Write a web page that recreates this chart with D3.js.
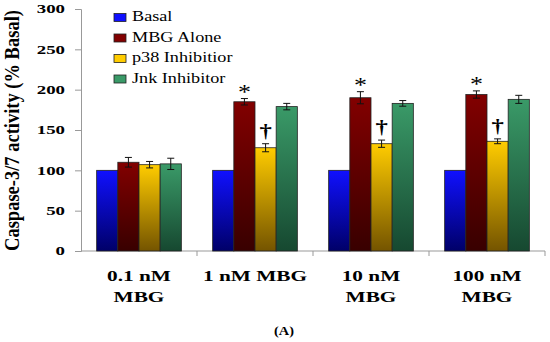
<!DOCTYPE html>
<html>
<head>
<meta charset="utf-8">
<style>
    body { margin: 0; background: white; }
    svg { display: block; }
    svg text { font-family: 'Liberation Serif', 'Times New Roman', serif; }
</style>
</head>
<body>
<svg width="550" height="342"></svg>
<script src="https://d3js.org/d3.v7.min.js"></script>
<script>
    // data
    let groups = ["0.1 nM MBG", "1 nM MBG", "10 nM MBG", "100 nM MBG"]
    let groupLines = [["0.1 nM", "MBG"], ["1 nM MBG"], ["10 nM", "MBG"], ["100 nM", "MBG"]]
    let series = ["Basal", "MBG Alone", "p38 Inhibitior", "Jnk Inhibitor"]
    let basal = [100, 100, 100, 100]
    let mbgAlone = [110, 185, 190, 194]
    let p38 = [107, 128, 133, 136]
    let jnk = [108, 179, 183, 188]
    let mbgErr = [6, 4, 7.5, 4.5]
    let p38Err = [4, 5, 4.5, 3]
    let jnkErr = [7, 4, 3.5, 5]
    let yTicks = [0, 50, 100, 150, 200, 250, 300]

    let values = [basal, mbgAlone, p38, jnk]
    let errors = [null, mbgErr, p38Err, jnkErr]
    // significance marks: "*" over MBG alone, "†" over p38 in groups 2-4
    let marks = [
        { s: 1, g: 1, t: "*" }, { s: 2, g: 1, t: "†" },
        { s: 1, g: 2, t: "*" }, { s: 2, g: 2, t: "†" },
        { s: 1, g: 3, t: "*" }, { s: 2, g: 3, t: "†" }
    ]

    let colors = [
        ["#1010ff", "#000068"],
        ["#820000", "#380000"],
        ["#ffcc00", "#745400"],
        ["#3a9a68", "#164830"]
    ]

    let svg = d3.select("svg")
    let defs = svg.append("defs")
    colors.forEach((c, i) => {
        let g = defs.append("linearGradient").attr("id", "grad" + i)
            .attr("x1", 0).attr("y1", 0).attr("x2", 0).attr("y2", 1)
        g.append("stop").attr("offset", "0%").attr("stop-color", c[0])
        g.append("stop").attr("offset", "100%").attr("stop-color", c[1])
    })

    // the original figure is stretched sideways, so text gets a horizontal scale
    function stretched(parent, px, py, sx, sy) {
        return parent.append("text")
            .attr("transform", `translate(${px},${py}) scale(${sx},${sy || 1})`)
    }

    let mLeft = 81, mRight = 545, mTop = 9, mBottom = 251

    let y = d3.scaleLinear().domain([0, 300]).range([mBottom, mTop])
    let x = d3.scaleBand().domain(groups).range([mLeft, mRight]).paddingInner(0.27).paddingOuter(0.135)
    let xs = d3.scaleBand().domain(series).range([0, x.bandwidth()])

    // y axis
    let yAxis = svg.append("g").attr("transform", `translate(${mLeft},0)`)
        .call(d3.axisLeft(y).tickValues(yTicks).tickSize(6).tickFormat(""))
    yAxis.select(".domain").attr("stroke", "#999")
    yAxis.selectAll(".tick line").attr("stroke", "#999")
    yTicks.forEach(t => {
        stretched(svg, 65, y(t), 1.45)
            .attr("text-anchor", "end").attr("dy", "0.33em")
            .attr("font-size", 13).attr("font-weight", "bold").text(t)
    })

    // x axis
    let xb = d3.scaleLinear().domain([0, 4]).range([mLeft, mRight])
    svg.append("line").attr("x1", mLeft).attr("x2", mRight).attr("y1", mBottom).attr("y2", mBottom)
        .attr("stroke", "#999")
    svg.selectAll(".xtick").data([1, 2, 3, 4]).join("line")
        .attr("x1", d => xb(d)).attr("x2", d => xb(d))
        .attr("y1", mBottom).attr("y2", mBottom + 5).attr("stroke", "#999")

    // bars
    series.forEach((s, si) => {
        svg.append("g").selectAll("rect").data(values[si]).join("rect")
            .attr("x", (d, i) => x(groups[i]) + xs(s))
            .attr("width", xs.bandwidth())
            .attr("y", d => y(d))
            .attr("height", d => y(0) - y(d))
            .attr("fill", `url(#grad${si})`)
            .attr("stroke", "#222")
            .attr("stroke-width", 0.8)
    })

    // error bars
    series.forEach((s, si) => {
        if (!errors[si]) return
        let g = svg.append("g").attr("stroke", "#111").attr("stroke-width", 1)
        values[si].forEach((v, i) => {
            let cx = x(groups[i]) + xs(s) + xs.bandwidth() / 2
            let e = errors[si][i]
            g.append("line").attr("x1", cx).attr("x2", cx).attr("y1", y(v - e)).attr("y2", y(v + e))
            g.append("line").attr("x1", cx - 3.5).attr("x2", cx + 3.5).attr("y1", y(v - e)).attr("y2", y(v - e))
            g.append("line").attr("x1", cx - 3.5).attr("x2", cx + 3.5).attr("y1", y(v + e)).attr("y2", y(v + e))
        })
    })

    // significance marks
    marks.forEach(d => {
        let cx = x(groups[d.g]) + xs(series[d.s]) + xs.bandwidth() / 2
        let capY = y(values[d.s][d.g] + errors[d.s][d.g])
        stretched(svg, cx, d.t == "*" ? capY + 0.5 : capY - 7, 1.3)
            .attr("text-anchor", "middle")
            .attr("font-size", d.t == "*" ? 20 : 19)
            .attr("font-weight", d.t == "*" ? "normal" : "bold")
            .text(d.t)
    })

    // x labels
    groupLines.forEach((lines, i) => {
        let cx = x(groups[i]) + x.bandwidth() / 2
        lines.forEach((l, j) => {
            stretched(svg, cx, 281 + j * 21, 1.42)
                .attr("text-anchor", "middle")
                .attr("font-size", 15).attr("font-weight", "bold").text(l)
        })
    })

    // y title
    svg.append("text")
        .attr("transform", `translate(18.5,${(mTop + mBottom) / 2 + 0.5}) rotate(-90) scale(1,1.1)`)
        .attr("text-anchor", "middle")
        .attr("font-size", 18.5).attr("font-weight", "bold")
        .text("Caspase-3/7 activity (% Basal)")

    // legend
    let legend = svg.append("g")
    series.forEach((s, i) => {
        legend.append("rect").attr("x", 114).attr("y", 13.5 + i * 20.5).attr("width", 12).attr("height", 8)
            .attr("fill", colors[i][0]).attr("stroke", "#222").attr("stroke-width", 0.8)
        stretched(legend, 132, 21 + i * 20.5, 1.3)
            .attr("font-size", 14).text(s)
    })

    stretched(svg, 284, 335, 1.15)
        .attr("text-anchor", "middle")
        .attr("font-size", 12.5).attr("font-weight", "bold").text("(A)")
</script>
</body>
</html>
